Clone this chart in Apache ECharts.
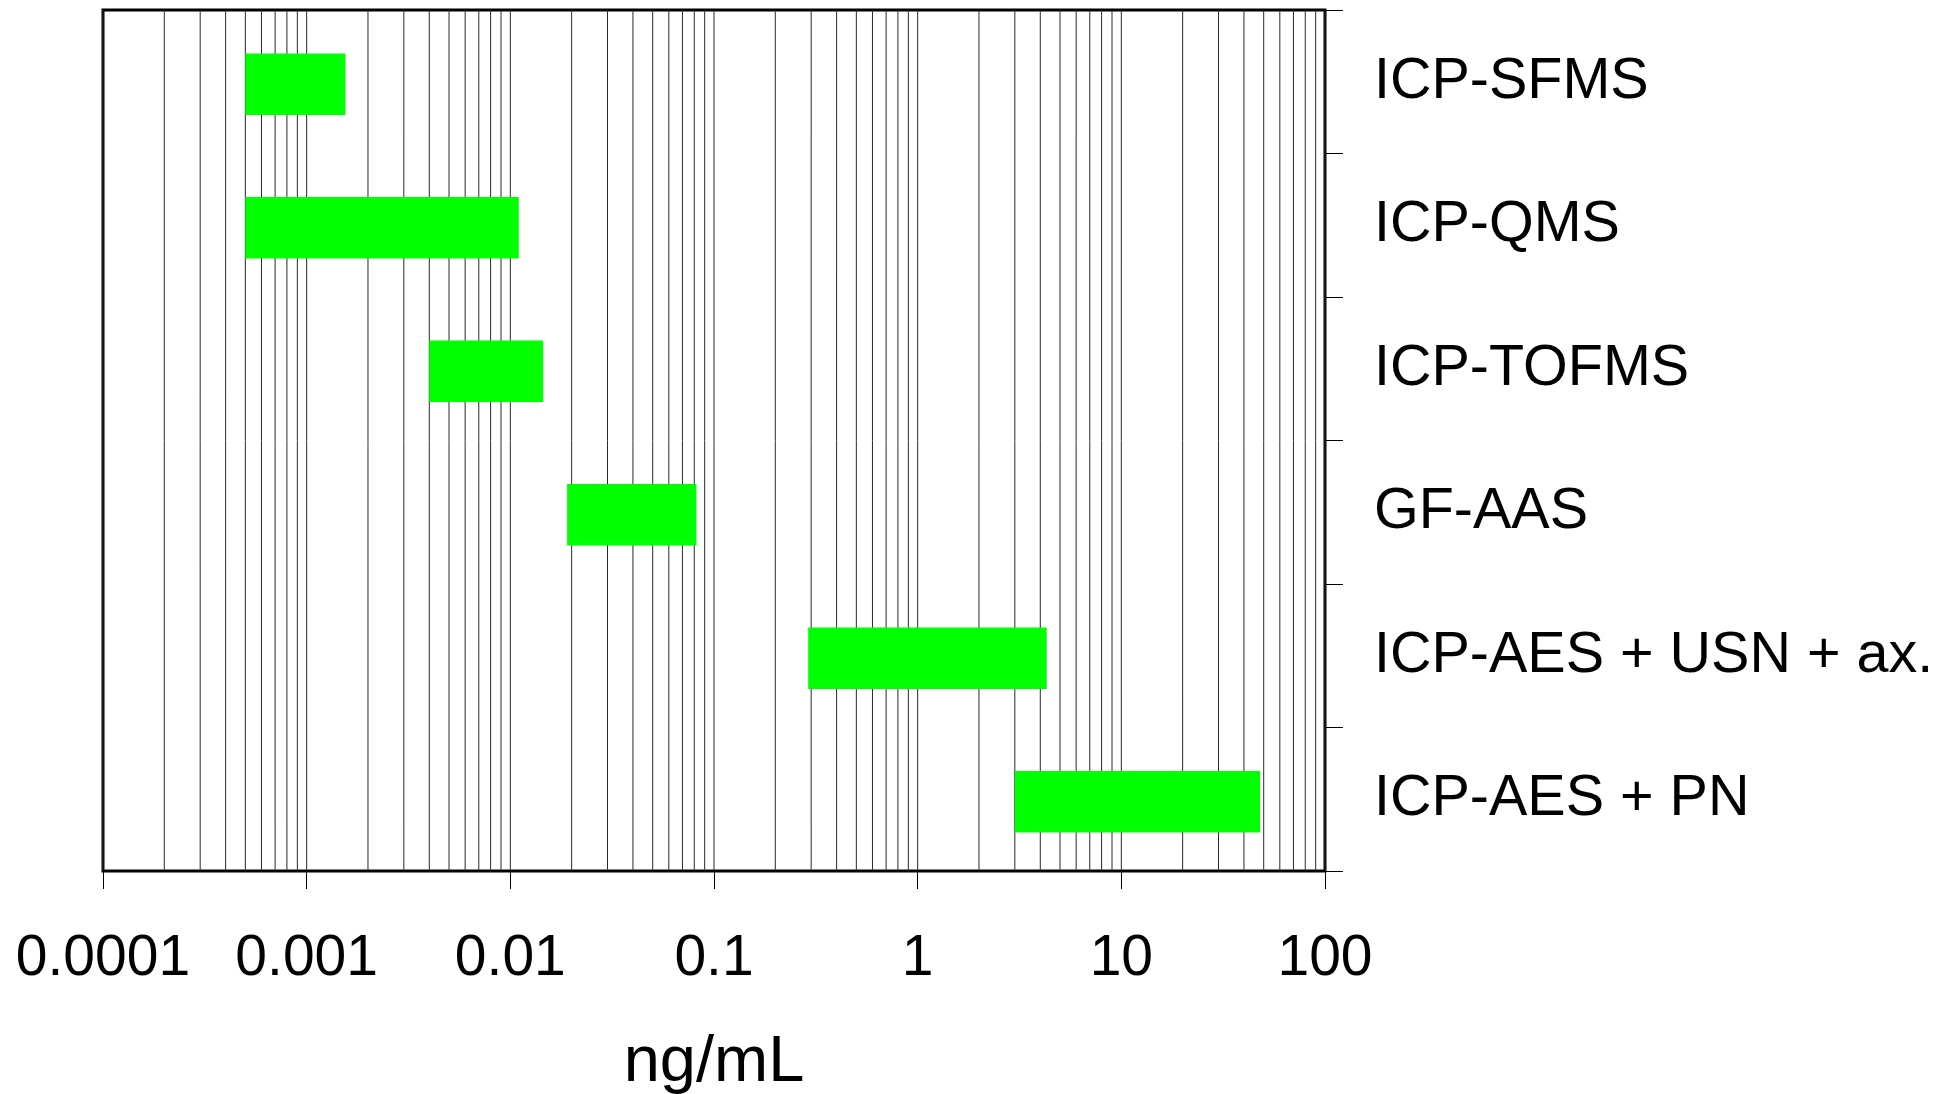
<!DOCTYPE html>
<html>
<head>
<meta charset="utf-8">
<script src="https://cdn.jsdelivr.net/npm/echarts@6/dist/echarts.min.js"></script>
<style>
html,body{margin:0;padding:0;background:#fff;}
#chart{width:1939px;height:1094px;}
</style>
</head>
<body>
<div id="chart"></div>
<script>
const categories = ['ICP-SFMS', 'ICP-QMS', 'ICP-TOFMS', 'GF-AAS', 'ICP-AES + USN + ax.', 'ICP-AES + PN'];
const lowValues = [0.0005, 0.0005, 0.004, 0.019, 0.29, 3];
const highValues = [0.00155, 0.011, 0.0145, 0.082, 4.3, 48];
const tickLabels = ['0.0001', '0.001', '0.01', '0.1', '1', '10', '100'];
const decades = [0.0001, 0.001, 0.01, 0.1, 1, 10];
const multipliers = [1, 2, 3, 4, 5, 6, 7, 8, 9];

const gridValues = [];
decades.forEach(d => multipliers.forEach(m => gridValues.push([+(d * m).toPrecision(3), 0])));
gridValues.push([100, 0]);

const barData = categories.map((c, i) => [lowValues[i], highValues[i], i]);

const FONT = "'Liberation Sans', Arial, sans-serif";
const chart = echarts.init(document.getElementById('chart'), null, {renderer: 'canvas'});

chart.setOption({
  animation: false,
  backgroundColor: '#fff',
  grid: {
    left: 103, top: 10, width: 1222, height: 861,
    show: true, borderColor: '#000', borderWidth: 3, backgroundColor: 'transparent',
    containLabel: false, outerBoundsMode: 'none'
  },
  xAxis: {
    type: 'log', logBase: 10, min: 0.0001, max: 100, splitNumber: 6,
    axisLine: {show: false},
    axisTick: {show: true, inside: false, length: 18, lineStyle: {color: '#000', width: 1}},
    splitLine: {show: false},
    axisLabel: {
      margin: 60, color: '#000', fontSize: 57, fontFamily: FONT,
      formatter: v => tickLabels[Math.round(Math.log10(v)) + 4]
    },
    name: 'ng/mL', nameLocation: 'middle', nameGap: 160,
    nameTextStyle: {color: '#000', fontSize: 65, fontFamily: FONT}
  },
  yAxis: {
    type: 'category', data: categories, position: 'right', inverse: true,
    axisLine: {show: false},
    axisTick: {show: true, inside: false, length: 18, lineStyle: {color: '#000', width: 1}},
    splitLine: {show: false},
    axisLabel: {margin: 49, color: '#000', fontSize: 57.5, fontFamily: FONT, align: 'left'}
  },
  series: [
    {
      type: 'custom', name: 'grid', silent: true, z: 1,
      encode: {x: 0, y: 1},
      data: gridValues,
      renderItem: function (params, api) {
        const x = api.coord([api.value(0), 0])[0];
        const cs = params.coordSys;
        return {
          type: 'line',
          shape: {x1: x, y1: cs.y, x2: x, y2: cs.y + cs.height},
          style: {stroke: '#2a2a2a', lineWidth: 1}
        };
      }
    },
    {
      type: 'custom', name: 'range', z: 5,
      encode: {x: [0, 1], y: 2},
      data: barData,
      renderItem: function (params, api) {
        const cat = api.value(2);
        const p0 = api.coord([api.value(0), cat]);
        const p1 = api.coord([api.value(1), cat]);
        const h = api.size([0, 1])[1] * 0.43;
        return {
          type: 'rect',
          shape: {x: p0[0], y: p0[1] - h / 2 + 2.5, width: p1[0] - p0[0], height: h},
          style: {fill: '#00ff00'}
        };
      }
    }
  ]
});
</script>
</body>
</html>
